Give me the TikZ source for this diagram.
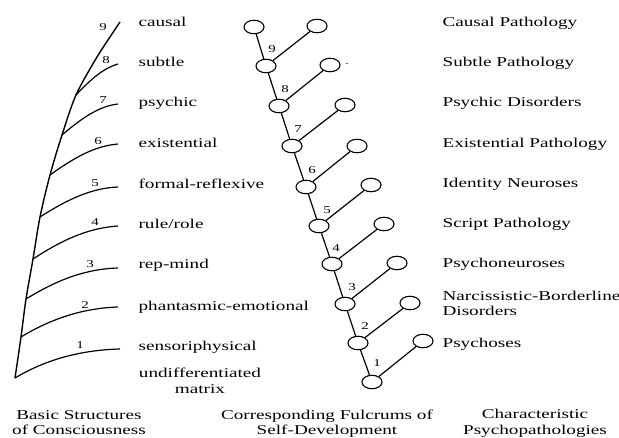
\documentclass[tikz,border=0pt]{standalone}
\usepackage{fontspec}
\setmainfont[FakeStretch=1.42]{Liberation Serif}
\usetikzlibrary{shapes.geometric}
\begin{document}
\begin{tikzpicture}[x=1pt,y=-1pt,line width=1.2pt,
  fnode/.style={ellipse,draw,minimum width=20pt,minimum height=13.5pt,inner sep=0pt,line width=1.1pt},
  lbl/.style={anchor=base west,font=\fontsize{13.5}{15}\selectfont,inner sep=0pt},
  num/.style={font=\fontsize{10.5}{12}\selectfont,inner sep=0pt},
  captxt/.style={anchor=base,font=\fontsize{13.5}{15}\selectfont,inner sep=0pt}]
\useasboundingbox (0,0) rectangle (619,437);

% ---------- left tree: basic structures ----------
\coordinate (j1) at (15,378);
\coordinate (j2) at (21,337);
\coordinate (j3) at (26,299);
\coordinate (j4) at (33,259);
\coordinate (j5) at (40,217);
\coordinate (j6) at (50,175);
\coordinate (j7) at (62,135);
\coordinate (j8) at (76,95);
\coordinate (t9) at (97,57);
\coordinate (e9) at (120,22);
\coordinate (e8) at (118,64);
\coordinate (e7) at (118,104);
\coordinate (e6) at (118,144);
\coordinate (e5) at (118,187);
\coordinate (e4) at (118,226);
\coordinate (e3) at (118,268);
\coordinate (e2) at (118,307);
\coordinate (e1) at (120,349);

\draw[line width=1.4pt] plot[smooth] coordinates {(j1) (j2) (j3) (j4) (j5) (j6) (j7) (j8) (t9) (e9)};
\draw (j1) .. controls (45,360) and (80,350) .. (e1);
\draw (j2) .. controls (52,318) and (85,308) .. (e2);
\draw (j3) .. controls (57,280) and (85,269) .. (e3);
\draw (j4) .. controls (62,240) and (88,228) .. (e4);
\draw (j5) .. controls (68,199) and (92,188) .. (e5);
\draw (j6) .. controls (75,157) and (95,146) .. (e6);
\draw (j7) .. controls (83,117) and (100,106) .. (e7);
\draw (j8) .. controls (92,78) and (104,68) .. (e8);

\node[num] (n9) at (103,27) {9};
\node[num] (n8) at (106,60) {8};
\node[num] (n7) at (103,100) {7};
\node[num] (n6) at (98,141) {6};
\node[num] (n5) at (95,183) {5};
\node[num] (n4) at (95,222) {4};
\node[num] (n3) at (90,264) {3};
\node[num] (n2) at (85,305) {2};
\node[num] (n1) at (80,345) {1};

\node[lbl] (l9) at (138,26) {causal};
\node[lbl] (l8) at (138,66) {subtle};
\node[lbl] (l7) at (138,106) {psychic};
\node[lbl] (l6) at (138,147) {existential};
\node[lbl] (l5) at (138,188) {formal-reflexive};
\node[lbl] (l4) at (138,228) {rule/role};
\node[lbl] (l3) at (138,268) {rep-mind};
\node[lbl] (l2) at (138,310) {phantasmic-emotional};
\node[lbl] (l1) at (138,350) {sensoriphysical};
\node[captxt] (l0a) at (200,377) {undifferentiated};
\node[captxt] (l0b) at (200,393) {matrix};

% ---------- middle tree: fulcrums ----------
\node[fnode] (s10) at (254,27) {};
\node[fnode] (s9) at (266,66) {};
\node[fnode] (s8) at (279,106) {};
\node[fnode] (s7) at (292,146) {};
\node[fnode] (s6) at (306,187) {};
\node[fnode] (s5) at (319,226) {};
\node[fnode] (s4) at (332,264) {};
\node[fnode] (s3) at (345,304) {};
\node[fnode] (s2) at (358,343) {};
\node[fnode] (s1) at (372,382) {};

\node[fnode] (r9) at (317,26) {};
\node[fnode] (r8) at (330,65) {};
\node[fnode] (r7) at (345,105) {};
\node[fnode] (r6) at (357,146) {};
\node[fnode] (r5) at (371,185) {};
\node[fnode] (r4) at (384,224) {};
\node[fnode] (r3) at (397,263) {};
\node[fnode] (r2) at (410,303) {};
\node[fnode] (r1) at (423,341) {};

\draw (s10) -- (s9);
\draw (s9) -- (s8);
\draw (s8) -- (s7);
\draw (s7) -- (s6);
\draw (s6) -- (s5);
\draw (s5) -- (s4);
\draw (s4) -- (s3);
\draw (s3) -- (s2);
\draw (s2) -- (s1);
\foreach \i in {1,...,9} {\draw (s\i) -- (r\i);}

\node[num] (m9) at (272,49) {9};
\node[num] (m8) at (285,89) {8};
\node[num] (m7) at (298,129) {7};
\node[num] (m6) at (312,170) {6};
\node[num] (m5) at (327,210) {5};
\node[num] (m4) at (336,248) {4};
\node[num] (m3) at (352,287) {3};
\node[num] (m2) at (365,326) {2};
\node[num] (m1) at (377,363) {1};
\node[num,font=\fontsize{7}{8}\selectfont] (dash) at (347,65) {-};

% ---------- right column: psychopathologies ----------
\node[lbl] (p9) at (442,26) {Causal Pathology};
\node[lbl] (p8) at (442,66) {Subtle Pathology};
\node[lbl] (p7) at (442,106) {Psychic Disorders};
\node[lbl] (p6) at (442,147) {Existential Pathology};
\node[lbl] (p5) at (442,187) {Identity Neuroses};
\node[lbl] (p4) at (442,227) {Script Pathology};
\node[lbl] (p3) at (442,267) {Psychoneuroses};
\node[lbl] (p2a) at (442,300) {Narcissistic-Borderline};
\node[lbl] (p2b) at (442,315) {Disorders};
\node[lbl] (p1) at (442,347) {Psychoses};

% ---------- captions ----------
\node[captxt] (c1a) at (79,419) {Basic Structures};
\node[captxt] (c1b) at (79,434) {of Consciousness};
\node[captxt] (c2a) at (327,419) {Corresponding Fulcrums of};
\node[captxt] (c2b) at (327,434) {Self-Development};
\node[captxt] (c3a) at (535,418) {Characteristic};
\node[captxt] (c3b) at (535,434) {Psychopathologies};
\end{tikzpicture}
\end{document}
